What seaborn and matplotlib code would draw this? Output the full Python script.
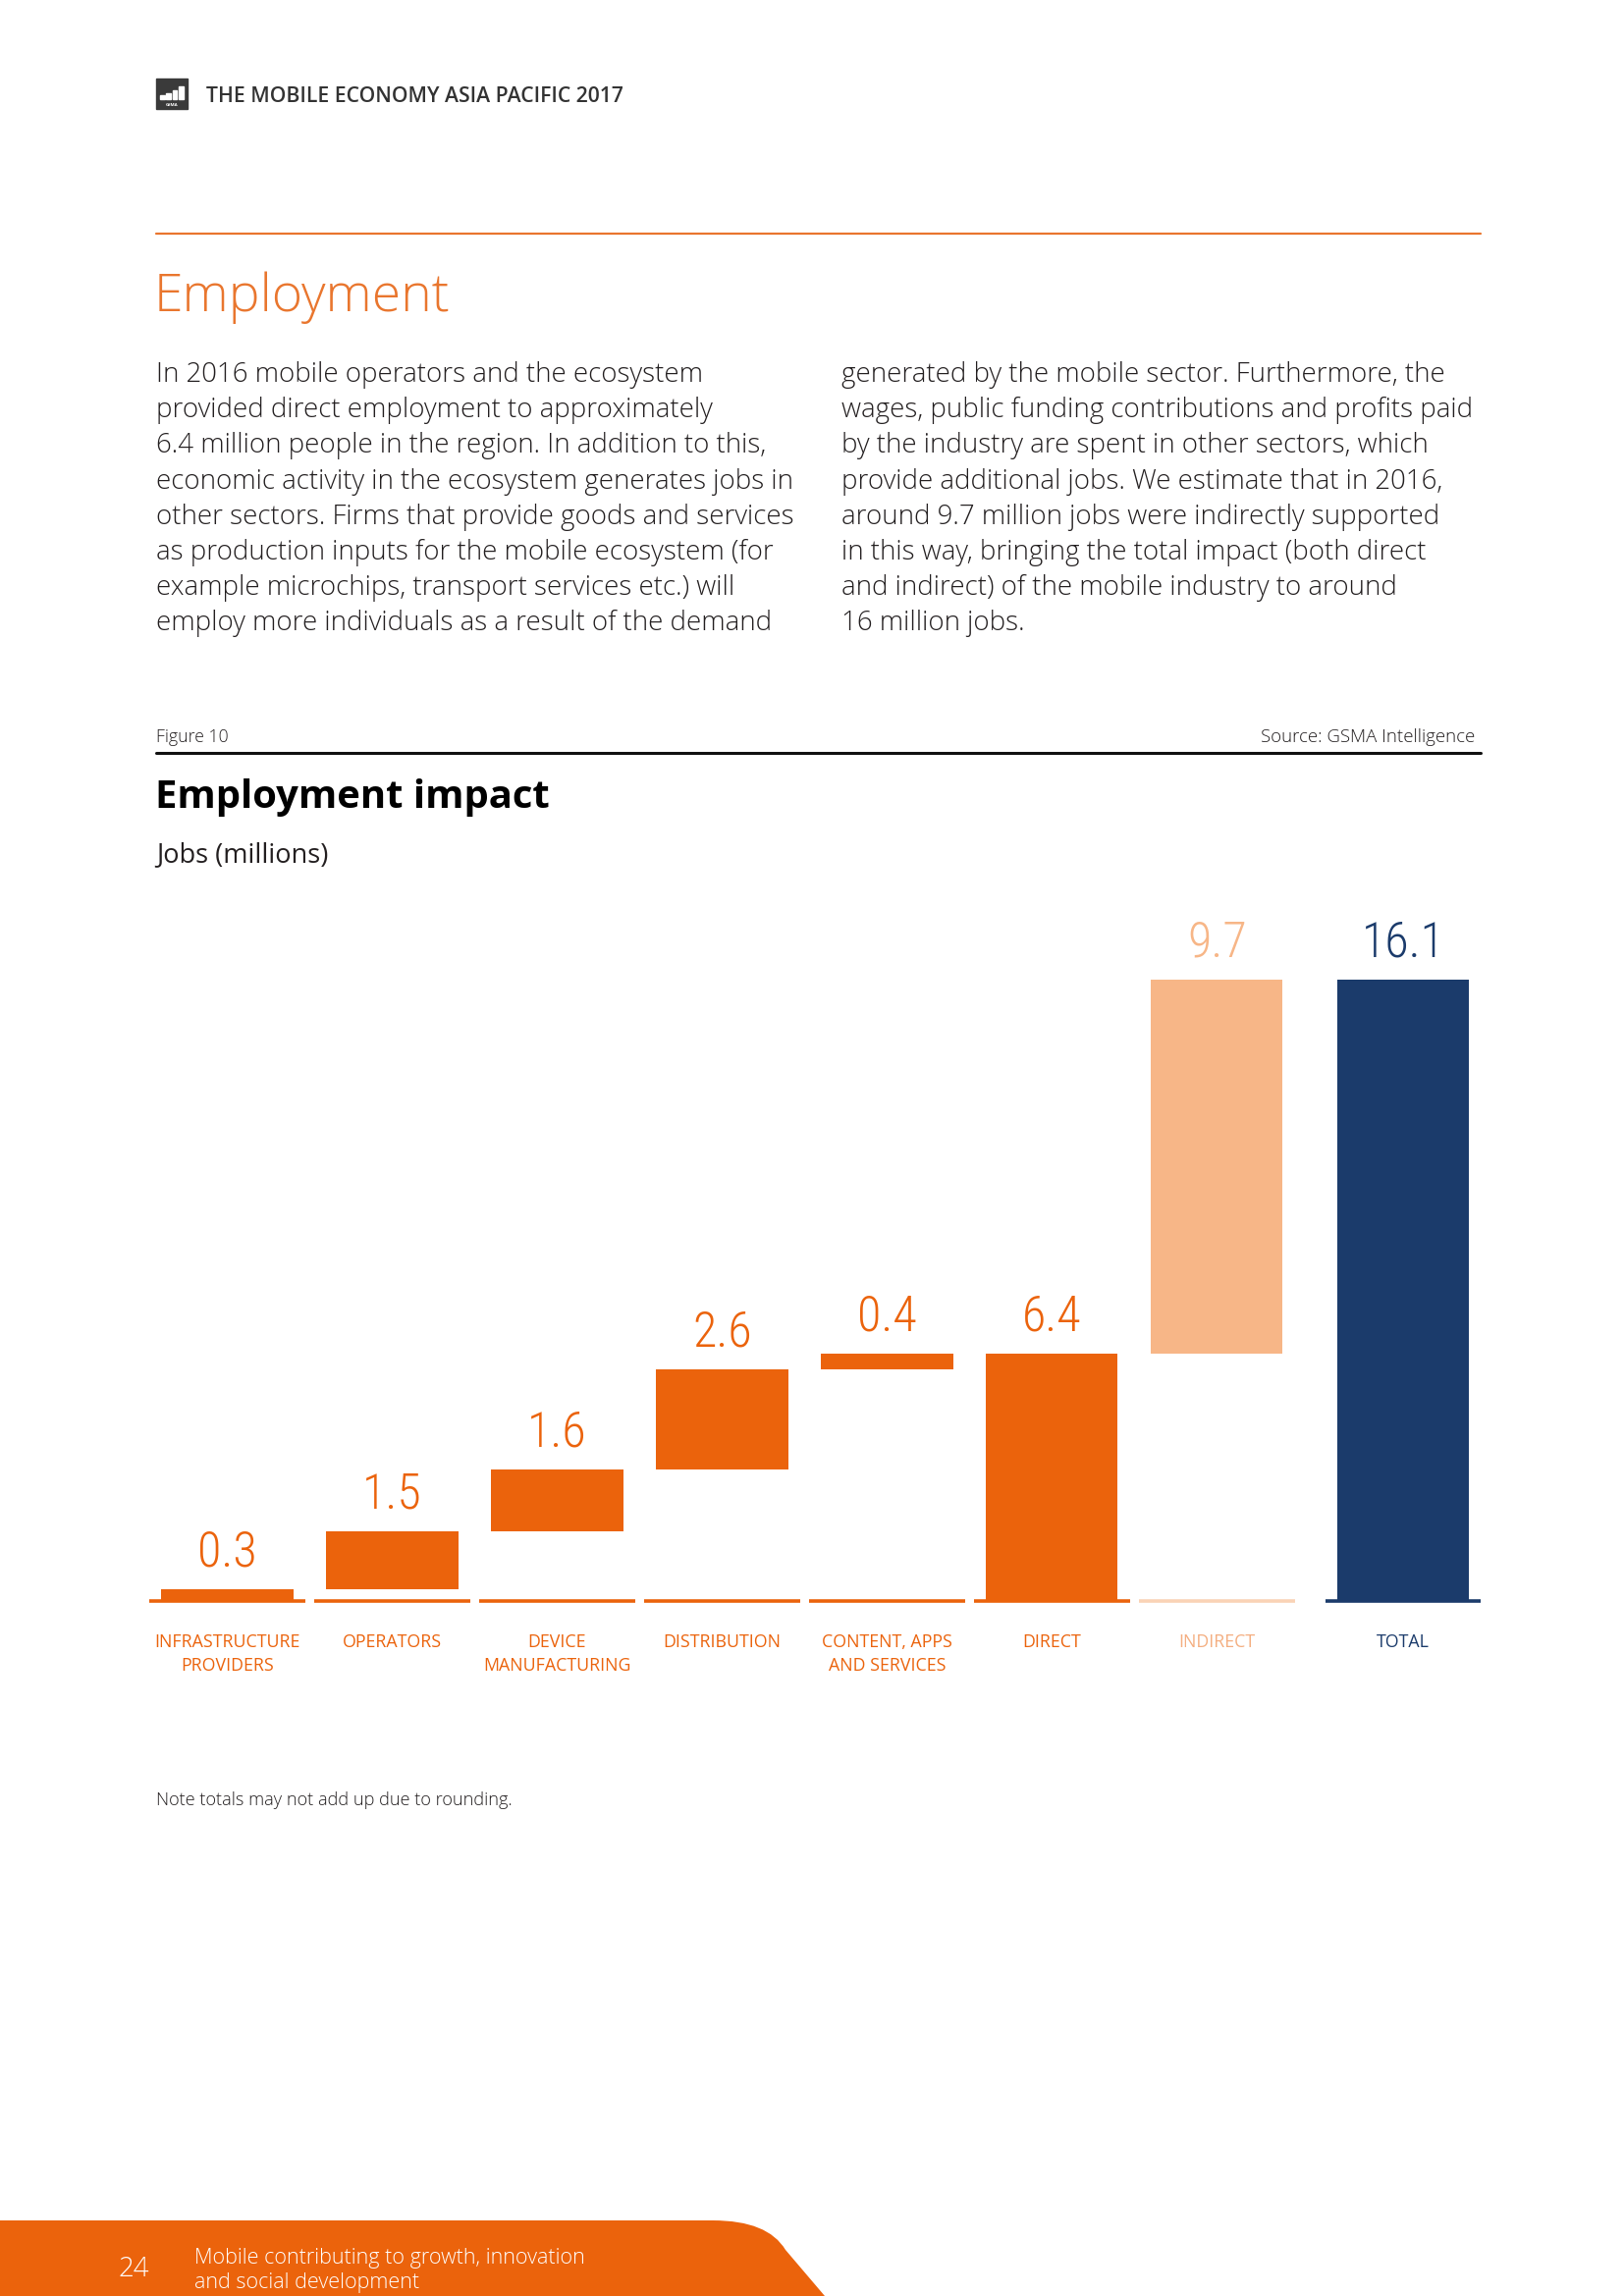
import matplotlib
matplotlib.use("Agg")
import matplotlib.pyplot as plt
import seaborn as sns
import numpy as np
import pandas as pd
from matplotlib import font_manager as fm
from matplotlib.patches import Rectangle, PathPatch
from matplotlib.path import Path

# ---------------- data ----------------
categories = ["INFRASTRUCTURE\nPROVIDERS", "OPERATORS", "DEVICE\nMANUFACTURING",
              "DISTRIBUTION", "CONTENT, APPS\nAND SERVICES", "DIRECT", "INDIRECT", "TOTAL"]
values = [0.3, 1.5, 1.6, 2.6, 0.4, 6.4, 9.7, 16.1]
bar_bottoms = [0.0, 0.3, 1.8, 3.4, 6.0, 0.0, 6.4, 0.0]
value_labels = ["0.3", "1.5", "1.6", "2.6", "0.4", "6.4", "9.7", "16.1"]

body_left = [
    "In 2016 mobile operators and the ecosystem",
    "provided direct employment to approximately",
    "6.4 million people in the region. In addition to this,",
    "economic activity in the ecosystem generates jobs in",
    "other sectors. Firms that provide goods and services",
    "as production inputs for the mobile ecosystem (for",
    "example microchips, transport services etc.) will",
    "employ more individuals as a result of the demand",
]
body_right = [
    "generated by the mobile sector. Furthermore, the",
    "wages, public funding contributions and profits paid",
    "by the industry are spent in other sectors, which",
    "provide additional jobs. We estimate that in 2016,",
    "around 9.7 million jobs were indirectly supported",
    "in this way, bringing the total impact (both direct",
    "and indirect) of the mobile industry to around",
    "16 million jobs.",
]

# ---------------- styles ----------------
ORANGE = "#EB630C"
LIGHT = "#F7B687"
LIGHT_LINE = "#FAD3B6"
NAVY = "#1B3B6B"
TXT = "#231F20"
bar_colors = [ORANGE] * 6 + [LIGHT, NAVY]
line_colors = [ORANGE] * 6 + [LIGHT_LINE, NAVY]
label_colors = [ORANGE] * 6 + ["#F4AE80", NAVY]

names = {f.name for f in fm.fontManager.ttflist}


def pick(*cands):
    for c in cands:
        if c in names:
            return c
    return "DejaVu Sans"


BASE = pick("Open Sans", "Lato", "DejaVu Sans")
COND = pick("Roboto Condensed", "Liberation Sans Narrow", "Open Sans Condensed", "DejaVu Sans")

sns.set_theme(style="white")
plt.rcParams["font.family"] = [BASE, "DejaVu Sans"]

W, H = 1654, 2339
fig = plt.figure(figsize=(W / 100, H / 100), dpi=100)
fig.patch.set_facecolor("white")

# background page axes in pixel coordinates
bg = fig.add_axes([0, 0, 1, 1], zorder=0)
bg.set_xlim(0, W)
bg.set_ylim(H, 0)
bg.axis("off")

# logo
bg.add_patch(Rectangle((159, 80), 32, 31, color="#3A3A3A"))
for i, hgt in enumerate([4, 6, 9, 13]):
    bg.add_patch(Rectangle((163 + i * 6.3, 101 - hgt), 4.8, hgt, color="white"))
bg.text(175, 106.5, "GSMA", fontsize=3.2, color="white", ha="center", va="center",
        fontweight="bold")
bg.text(210, 104, "THE MOBILE ECONOMY ASIA PACIFIC 2017", fontsize=15.2,
        color="#333333", fontweight="semibold", ha="left", va="baseline")

# orange rule
bg.plot([159, 1508], [238, 238], color="#E9762E", lw=1.6)
bg.text(157, 317, "Employment", fontsize=38.5, color="#E9762E", fontweight="light",
        ha="left", va="baseline")

for i, line in enumerate(body_left):
    bg.text(159, 389 + 36.2 * i, line, fontsize=19.9, color=TXT, fontweight="light",
            ha="left", va="baseline")
for i, line in enumerate(body_right):
    bg.text(857, 389 + 36.2 * i, line, fontsize=19.9, color=TXT, fontweight="light",
            ha="left", va="baseline")

bg.text(159, 756, "Figure 10", fontsize=12.7, color=TXT, ha="left", va="baseline",
        fontweight="light")
bg.text(1502, 756, "Source: GSMA Intelligence", fontsize=13.4, color=TXT, ha="right",
        va="baseline", fontweight="light")
bg.plot([159, 1508], [767, 767], color="#111111", lw=2.2)
bg.text(158, 823, "Employment impact", fontsize=28.8, color="black", fontweight="bold",
        ha="left", va="baseline")
bg.text(159, 878, "Jobs (millions)", fontsize=19.5, color=TXT, ha="left", va="baseline",
        fontweight="normal")
bg.text(159, 1839, "Note totals may not add up due to rounding.", fontsize=13.1,
        color=TXT, ha="left", va="baseline", fontweight="light")

# footer
verts = [(0, 2262), (726, 2262), (782, 2262), (800, 2292), (840, 2339), (0, 2339), (0, 2262)]
codes = [Path.MOVETO, Path.LINETO, Path.CURVE3, Path.CURVE3, Path.LINETO, Path.LINETO,
         Path.CLOSEPOLY]
bg.add_patch(PathPatch(Path(verts, codes), facecolor=ORANGE, edgecolor="none"))
bg.text(120, 2319, "24", fontsize=20, color="white", ha="left", va="baseline",
        fontweight="light")
bg.text(198, 2306, "Mobile contributing to growth, innovation", fontsize=15.5,
        color="white", ha="left", va="baseline", fontweight="light")
bg.text(198, 2331, "and social development", fontsize=15.5, color="white",
        ha="left", va="baseline", fontweight="light")

# ---------------- chart ----------------
n = len(categories)
pos = np.arange(n) + np.where(np.arange(n) == n - 1, 0.13, 0.0)
df = pd.DataFrame({"pos": pos, "value": values, "category": categories})

left_px, right_px, base_px, top_px = 152, 1508, 1631, 900
ax = fig.add_axes([left_px / W, (H - base_px) / H, (right_px - left_px) / W,
                   (base_px - top_px) / H], zorder=1)
ax.patch.set_alpha(0)

sns.barplot(data=df, x="pos", y="value", hue="category", native_scale=True,
            palette=dict(zip(categories, bar_colors)), width=0.8, legend=False,
            saturation=1, ax=ax, linewidth=0)

# waterfall: lift each bar onto its base
for patch in ax.patches:
    cx = patch.get_x() + patch.get_width() / 2
    idx = int(np.argmin(np.abs(pos - cx)))
    patch.set_y(bar_bottoms[idx])

tops = np.array(bar_bottoms) + np.array(values)
y_top = (base_px - top_px) / 39.3
ax.set_xlim(-0.473, pos[-1] + 0.47)
ax.set_ylim(0, y_top)

# baseline segments
ax.hlines(np.zeros(n), pos - 0.472, pos + 0.472, colors=line_colors, lw=2.6,
          clip_on=False, zorder=3)

for p, t, lab, c in zip(pos, tops, value_labels, bar_colors):
    ax.annotate(lab, (p, t), xytext=(0, 10), textcoords="offset points",
                ha="center", va="bottom", color=c, fontsize=36,
                family=[COND, "DejaVu Sans"], fontweight="light",
                fontstretch="condensed")

ax.set_xticks(pos)
ax.set_xticklabels(categories, fontsize=12.8, linespacing=1.4)
for lbl, c in zip(ax.get_xticklabels(), label_colors):
    lbl.set_color(c)
    lbl.set_fontweight("normal")
ax.tick_params(axis="x", length=0, pad=24)
ax.set_yticks([])
ax.set_xlabel("")
ax.set_ylabel("")
for s in ax.spines.values():
    s.set_visible(False)

fig.savefig("out.png", dpi=100, facecolor="white")
